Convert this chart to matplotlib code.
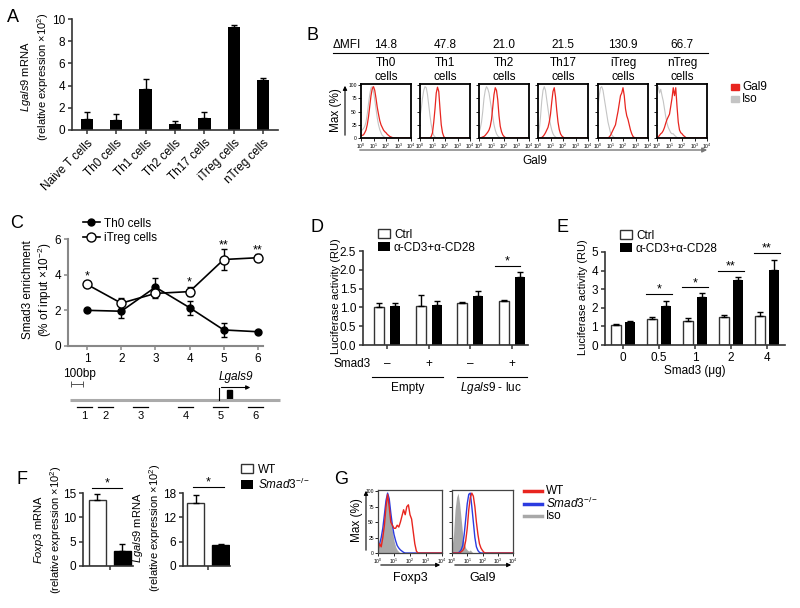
import numpy as np
import matplotlib
matplotlib.use('Agg')
import matplotlib.pyplot as plt
from matplotlib.patches import Rectangle, Patch
from matplotlib.lines import Line2D
from matplotlib.ticker import NullLocator

plt.rcParams['font.family'] = ['Liberation Sans', 'DejaVu Sans']
plt.rcParams['mathtext.fontset'] = 'custom'
plt.rcParams['mathtext.rm'] = 'Liberation Sans'
plt.rcParams['mathtext.it'] = 'Liberation Sans:italic'
plt.rcParams['mathtext.bf'] = 'Liberation Sans:bold'
plt.rcParams['font.size'] = 8.5

# ---- data ----
# A: Lgals9 mRNA
cell_types = ['Naive T cells', 'Th0 cells', 'Th1 cells', 'Th2 cells', 'Th17 cells', 'iTreg cells', 'nTreg cells']
lgals9_mrna = [1.0, 0.9, 3.7, 0.55, 1.1, 9.3, 4.5]
lgals9_err = [0.6, 0.5, 0.9, 0.3, 0.55, 0.15, 0.2]

# B: Gal9 histograms (log10 fluorescence, % of max)
hist_cells = ['Th0\ncells', 'Th1\ncells', 'Th2\ncells', 'Th17\ncells', 'iTreg\ncells', 'nTreg\ncells']
delta_mfi = ['14.8', '47.8', '21.0', '21.5', '130.9', '66.7']
log_bins = [0.0, 0.1, 0.2, 0.3, 0.4, 0.5, 0.6, 0.7, 0.8, 0.9, 1.0, 1.1, 1.2, 1.3, 1.4, 1.5,
            1.6, 1.7, 1.8, 1.9, 2.0, 2.1, 2.2, 2.3, 2.4, 2.5, 2.6, 2.7, 2.8, 2.9, 3.0]
gal9_th0 = [5, 5, 6, 10, 15, 25, 40, 60, 80, 93, 97, 90, 75, 58, 45, 33, 25, 20, 15, 12, 10, 7, 5, 3, 2, 1, 0, 0, 0, 0, 0]
iso_th0 = [15, 15, 18, 22, 30, 45, 65, 82, 95, 97, 88, 72, 55, 38, 25, 16, 10, 5, 3, 1, 0, 0, 0, 0, 0, 0, 0, 0, 0, 0, 0]
gal9_th1 = [0, 0, 0, 0, 0, 0, 0, 0, 0, 3, 10, 30, 55, 85, 96, 88, 55, 25, 10, 3, 0, 0, 0, 0, 0, 0, 0, 0, 0, 0, 0]
iso_th1 = [40, 55, 75, 90, 97, 95, 82, 62, 42, 25, 12, 5, 2, 0, 0, 0, 0, 0, 0, 0, 0, 0, 0, 0, 0, 0, 0, 0, 0, 0, 0]
gal9_th2 = [0, 0, 1, 2, 3, 5, 8, 11, 15, 22, 35, 58, 82, 95, 90, 72, 42, 22, 12, 6, 3, 1, 0, 0, 0, 0, 0, 0, 0, 0, 0]
iso_th2 = [10, 18, 30, 50, 75, 90, 97, 93, 85, 70, 55, 40, 25, 15, 8, 4, 2, 0, 0, 0, 0, 0, 0, 0, 0, 0, 0, 0, 0, 0, 0]
gal9_th17 = [0, 0, 0, 1, 3, 6, 10, 15, 20, 30, 45, 68, 88, 95, 78, 52, 30, 16, 8, 4, 2, 0, 0, 0, 0, 0, 0, 0, 0, 0, 0]
iso_th17 = [5, 15, 40, 70, 90, 97, 90, 72, 55, 38, 25, 15, 8, 4, 2, 0, 0, 0, 0, 0, 0, 0, 0, 0, 0, 0, 0, 0, 0, 0, 0]
gal9_itreg = [0, 0, 0, 0, 0, 0, 0, 0, 0, 2, 5, 10, 15, 20, 25, 38, 50, 65, 80, 85, 95, 80, 55, 42, 35, 25, 15, 8, 3, 1, 0]
iso_itreg = [60, 80, 95, 97, 90, 75, 60, 45, 30, 20, 10, 6, 3, 1, 0, 0, 0, 0, 0, 0, 0, 0, 0, 0, 0, 0, 0, 0, 0, 0, 0]
gal9_ntreg = [0, 2, 5, 8, 10, 14, 20, 28, 35, 40, 45, 60, 75, 95, 80, 95, 60, 30, 15, 10, 8, 5, 3, 1, 0, 0, 0, 0, 0, 0, 0]
iso_ntreg = [90, 97, 85, 92, 80, 70, 55, 40, 28, 20, 15, 10, 8, 8, 5, 3, 1, 0, 0, 0, 0, 0, 0, 0, 0, 0, 0, 0, 0, 0, 0]
gal9_curves = [gal9_th0, gal9_th1, gal9_th2, gal9_th17, gal9_itreg, gal9_ntreg]
iso_curves = [iso_th0, iso_th1, iso_th2, iso_th17, iso_itreg, iso_ntreg]

# C: Smad3 ChIP
regions = [1, 2, 3, 4, 5, 6]
th0_enrich = [2.0, 1.95, 3.3, 2.15, 0.9, 0.8]
th0_err = [0.05, 0.4, 0.5, 0.4, 0.4, 0.05]
itreg_enrich = [3.45, 2.4, 2.95, 3.05, 4.85, 4.95]
itreg_err = [0.05, 0.3, 0.25, 0.25, 0.6, 0.2]
c_star_pos = [1, 4, 5, 6]
c_star_y = [4.1, 3.76, 5.83, 5.55]
c_star_txt = ['*', '*', '**', '**']
amplicon_start_bp = [60, 235, 525, 900, 1190, 1485]
amplicon_len_bp = 125
tss_bp = 1242
exon_bp = [1308, 1350]
locus_len_bp = 1750

# D: luciferase
d_smad3 = ['\u2013', '+', '\u2013', '+']
d_ctrl = [1.0, 1.03, 1.12, 1.17]
d_ctrl_err = [0.13, 0.3, 0.02, 0.02]
d_cd3 = [1.05, 1.07, 1.3, 1.8]
d_cd3_err = [0.07, 0.1, 0.13, 0.14]

# E: Smad3 dose
e_dose = ['0', '0.5', '1', '2', '4']
e_ctrl = [1.1, 1.4, 1.28, 1.5, 1.55]
e_ctrl_err = [0.02, 0.12, 0.15, 0.12, 0.2]
e_cd3 = [1.25, 2.1, 2.57, 3.5, 4.05]
e_cd3_err = [0.05, 0.28, 0.25, 0.15, 0.5]
e_sig = ['', '*', '*', '**', '**']
e_sig_y = [0, 2.74, 3.1, 4.0, 4.95]

# F: WT vs Smad3-/-
f_foxp3 = [13.6, 3.0]
f_foxp3_err = [1.1, 1.5]
f_lgals9 = [15.5, 5.3]
f_lgals9_err = [2.0, 0.2]

# G: Foxp3 / Gal9 histograms
foxp3_iso = [10, 15, 25, 40, 60, 85, 95, 80, 55, 35, 20, 10, 5, 2, 0, 0, 0, 0, 0, 0, 0, 0, 0, 0, 0, 0, 0, 0, 0, 0, 0]
foxp3_ko = [10, 15, 25, 40, 62, 85, 97, 88, 65, 45, 30, 20, 12, 8, 5, 3, 1, 0, 0, 0, 0, 0, 0, 0, 0, 0, 0, 0, 0, 0, 0]
foxp3_wt = [5, 15, 10, 25, 45, 75, 95, 75, 50, 45, 40, 40, 45, 42, 50, 60, 70, 62, 75, 78, 62, 55, 35, 15, 3, 0, 0, 0, 0, 0, 0]
gal9_iso = [10, 30, 70, 90, 97, 80, 55, 30, 15, 8, 5, 3, 5, 2, 0, 0, 0, 0, 0, 0, 0, 0, 0, 0, 0, 0, 0, 0, 0, 0, 0]
gal9_ko = [0, 0, 0, 0, 0, 2, 5, 12, 30, 55, 80, 95, 97, 75, 50, 25, 10, 4, 1, 0, 0, 0, 0, 0, 0, 0, 0, 0, 0, 0, 0]
gal9_wt = [0, 0, 0, 0, 0, 0, 2, 4, 8, 20, 40, 70, 90, 97, 92, 75, 50, 30, 15, 8, 4, 1, 0, 0, 0, 0, 0, 0, 0, 0, 0]

RED = '#e8251f'
BLUE = '#2b3be0'
ISO_B = '#c4c4c4'
ISO_G = '#a8a8a8'
AX = '#333333'

W, H = 800, 608
fig = plt.figure(figsize=(8, 6.08), dpi=100)


def box(x0, y0, x1, y1):
    return fig.add_axes([x0 / W, 1 - y1 / H, (x1 - x0) / W, (y1 - y0) / H])


def style(ax, color=AX):
    for s in ['top', 'right']:
        ax.spines[s].set_visible(False)
    for s in ['left', 'bottom']:
        ax.spines[s].set_color(color)
        ax.spines[s].set_linewidth(1.2)
    ax.tick_params(color=color, length=3, width=1.1, labelsize=8.5, pad=2)


def hist_style(ax, ylabels, lw=1.3, col='black'):
    ax.set_xscale('log')
    ax.set_xlim(1, 1e4)
    ax.set_ylim(0, 102)
    ax.set_xticks([1, 10, 100, 1000, 10000])
    ax.set_xticklabels(['$10^{0}$', '$10^{1}$', '$10^{2}$', '$10^{3}$', '$10^{4}$'])
    ax.xaxis.set_minor_locator(NullLocator())
    ax.set_yticks([0, 25, 50, 75, 100])
    if ylabels:
        ax.set_yticklabels(['0', '25', '50', '75', '100'])
    else:
        ax.set_yticklabels([])
    ax.tick_params(length=2, width=0.6, labelsize=3.6, pad=1)
    for s in ax.spines.values():
        s.set_linewidth(lw)
        s.set_color(col)


xs_hist = list(10 ** np.array(log_bins)) + [1e4]

ov = fig.add_axes([0, 0, 1, 1], zorder=10)
ov.set_xlim(0, W)
ov.set_ylim(H, 0)
ov.axis('off')

# panel letters
for letter, (lx, ly) in zip('ABCDEFG', [(13, 17), (312, 35), (17, 224), (317, 228),
                                        (563, 228), (22, 480), (341, 480)]):
    ov.text(lx, ly, letter, fontsize=13, ha='center', va='center')

# ---- A ----
axA = box(72, 19, 278, 130)
xa = np.arange(len(cell_types))
axA.bar(xa, lgals9_mrna, 0.42, color='black',
        yerr=[np.zeros(len(xa)), lgals9_err], capsize=2.5,
        error_kw=dict(elinewidth=1, capthick=1))
axA.set_xlim(-0.5, 6.5)
axA.set_ylim(0, 10)
axA.set_yticks([0, 2, 4, 6, 8, 10])
axA.set_xticks(xa)
axA.set_xticklabels(cell_types, rotation=45, ha='right', rotation_mode='anchor')
style(axA)
ov.text(35, 77, '$\\it{Lgals9}$ mRNA\n(relative expression \u00d710$^{2}$)',
        rotation=90, ha='center', va='center', fontsize=8, linespacing=1.2)

# ---- B ----
ov.text(333, 45, '\u0394MFI', ha='left', va='center', fontsize=8.5)
ov.plot([333, 708], [53, 53], color='black', lw=0.8)
b_left = [361, 420, 479, 538, 598, 657]
for i in range(6):
    axb = box(b_left[i], 84, b_left[i] + 50, 138)
    axb.plot(xs_hist, iso_curves[i] + [0], color=ISO_B, lw=0.8)
    axb.plot(xs_hist, gal9_curves[i] + [0], color=RED, lw=0.9)
    hist_style(axb, i == 0)
    cx = b_left[i] + 25
    ov.text(cx, 45, delta_mfi[i], ha='center', va='center', fontsize=8.5)
    ov.text(cx, 70, hist_cells[i], ha='center', va='center', fontsize=8.5, linespacing=1.2)
ov.text(336, 110, 'Max (%)', rotation=90, ha='center', va='center', fontsize=8.5)
ov.annotate('', xy=(345, 83), xytext=(345, 138),
            arrowprops=dict(arrowstyle='-|>', color='black', lw=0.8, mutation_scale=6))
ov.annotate('', xy=(710, 150), xytext=(357, 150),
            arrowprops=dict(arrowstyle='-|>', color='#777777', lw=1.0, mutation_scale=7))
ov.text(535, 161, 'Gal9', ha='center', va='center', fontsize=8.5)
ov.add_patch(Rectangle((731, 84), 8, 6, color=RED))
ov.text(742, 87, 'Gal9', ha='left', va='center', fontsize=8.5)
ov.add_patch(Rectangle((731, 96), 8, 6, color=ISO_B))
ov.text(742, 99.5, 'Iso', ha='left', va='center', fontsize=8.5)

# ---- C ----
axC = box(68, 239, 263, 346)
axC.errorbar(regions, th0_enrich, yerr=th0_err, fmt='-o', color='black', ms=5,
             capsize=2.5, lw=1.2, elinewidth=1, capthick=1)
axC.errorbar(regions, itreg_enrich, yerr=itreg_err, fmt='-o', color='black',
             mfc='white', mec='black', ms=6.5, mew=1, capsize=2.5, lw=1.2,
             elinewidth=1, capthick=1)
for p, y, t in zip(c_star_pos, c_star_y, c_star_txt):
    axC.annotate(t, (p, y), xytext=(0, -4.7), textcoords='offset points',
                 ha='center', va='baseline', fontsize=9)
axC.set_xlim(0.44, 6.15)
axC.set_ylim(0, 6)
axC.set_xticks(regions)
axC.set_yticks([0, 2, 4, 6])
style(axC, '#888888')
axC.spines['left'].set_linewidth(1.5)
axC.spines['bottom'].set_linewidth(1.5)
h_th0 = Line2D([], [], color='black', marker='o', ms=5, lw=1.2)
h_itreg = Line2D([], [], color='black', marker='o', mfc='white', mec='black', ms=6.5, mew=1, lw=1.2)
axC.legend([h_th0, h_itreg], ['Th0 cells', 'iTreg cells'], loc='center left',
           bbox_to_anchor=(83 / W, 1 - 231 / H), bbox_transform=fig.transFigure,
           frameon=False, handlelength=1.4, handletextpad=0.4, labelspacing=0.25,
           borderpad=0, borderaxespad=0, fontsize=8.5)
ov.text(38, 290, 'Smad3 enrichment\n(% of input \u00d710$^{-2}$)', rotation=90,
        ha='center', va='center', fontsize=8.5, linespacing=1.15)

# gene diagram
gx0, gpx = 70, 0.12
ov.plot([gx0, gx0 + locus_len_bp * gpx], [400, 400], color='#aaaaaa', lw=2.2, solid_capstyle='butt')
for k, st in enumerate(amplicon_start_bp):
    a0 = gx0 + st * gpx
    a1 = gx0 + (st + amplicon_len_bp) * gpx
    ov.plot([a0, a1], [407, 407], color='black', lw=0.9)
    ov.text((a0 + a1) / 2, 416, str(k + 1), ha='center', va='center', fontsize=8)
ov.plot([gx0 + 1, gx0 + 1 + 100 * gpx], [384, 384], color='#555555', lw=0.7,
        marker='|', ms=4, mew=0.7)
ov.text(gx0 + 9, 374, '100bp', ha='center', va='center', fontsize=8.5)
tx = gx0 + tss_bp * gpx
ov.plot([tx, tx], [400, 387.5], color='black', lw=0.8)
ov.annotate('', xy=(tx + 34, 387.5), xytext=(tx - 0.4, 387.5),
            arrowprops=dict(arrowstyle='-|>', color='black', lw=0.8, mutation_scale=6))
ov.add_patch(Rectangle((gx0 + exon_bp[0] * gpx, 390), (exon_bp[1] - exon_bp[0]) * gpx, 9,
                       color='black'))
ov.text(tx + 17, 377, 'Lgals9', style='italic', ha='center', va='center', fontsize=8.5)

# ---- D ----
axD = box(363, 251, 528, 345)
xd = np.arange(4)
bD1 = axD.bar(xd - 0.19, d_ctrl, 0.24, color='white', edgecolor=AX, lw=1,
              yerr=[np.zeros(4), d_ctrl_err], capsize=2,
              error_kw=dict(elinewidth=1, capthick=1))
bD2 = axD.bar(xd + 0.19, d_cd3, 0.24, color='black',
              yerr=[np.zeros(4), d_cd3_err], capsize=2,
              error_kw=dict(elinewidth=1, capthick=1))
axD.set_xlim(-0.58, 3.39)
axD.set_ylim(0, 2.5)
axD.set_yticks([0, 0.5, 1.0, 1.5, 2.0, 2.5])
axD.set_yticklabels(['0.0', '0.5', '1.0', '1.5', '2.0', '2.5'])
axD.set_xticks(xd)
axD.set_xticklabels([])
style(axD)
axD.plot([2.59, 3.19], [2.1, 2.1], color='black', lw=0.8, clip_on=False)
axD.annotate('*', (2.89, 2.1), xytext=(0, 1), textcoords='offset points',
             ha='center', va='baseline', fontsize=9, annotation_clip=False)
xt = axD.get_xaxis_transform()
for i, s in enumerate(d_smad3):
    axD.text(i, -0.2, s, transform=xt, ha='center', va='center', fontsize=8.5)
ov.text(371, 364, 'Smad3', ha='right', va='center', fontsize=8.5)
axD.plot([-0.36, 1.35], [-0.34, -0.34], transform=xt, color='black', lw=0.8, clip_on=False)
axD.plot([1.68, 3.37], [-0.34, -0.34], transform=xt, color='black', lw=0.8, clip_on=False)
axD.text(0.5, -0.46, 'Empty', transform=xt, ha='center', va='center', fontsize=8.5)
axD.text(2.5, -0.46, '$\\it{Lgals9}$ - luc', transform=xt, ha='center', va='center', fontsize=8.5)
axD.legend([bD1, bD2], ['Ctrl', '\u03b1-CD3+\u03b1-CD28'], loc='upper left',
           bbox_to_anchor=(378 / W, 1 - 229 / H), bbox_transform=fig.transFigure,
           frameon=False, handlelength=1.0, handleheight=0.8, handletextpad=0.35,
           labelspacing=0.05, borderpad=0, borderaxespad=0, fontsize=8.5)
ov.text(336, 296, 'Luciferase activity (RU)', rotation=90, ha='center', va='center', fontsize=8)

# ---- E ----
axE = box(605, 252, 785, 345)
xe = np.arange(5)
bE1 = axE.bar(xe - 0.19, e_ctrl, 0.26, color='white', edgecolor=AX, lw=1,
              yerr=[np.zeros(5), e_ctrl_err], capsize=2,
              error_kw=dict(elinewidth=1, capthick=1))
bE2 = axE.bar(xe + 0.19, e_cd3, 0.26, color='black',
              yerr=[np.zeros(5), e_cd3_err], capsize=2,
              error_kw=dict(elinewidth=1, capthick=1))
axE.set_xlim(-0.5, 4.5)
axE.set_ylim(0, 5)
axE.set_yticks([0, 1, 2, 3, 4, 5])
axE.set_xticks(xe)
axE.set_xticklabels(e_dose)
style(axE)
for i in range(1, 5):
    axE.plot([i - 0.36, i + 0.36], [e_sig_y[i], e_sig_y[i]], color='black', lw=0.8, clip_on=False)
    axE.annotate(e_sig[i], (i, e_sig_y[i]), xytext=(0, 1), textcoords='offset points',
                 ha='center', va='baseline', fontsize=9, annotation_clip=False)
ov.text(695, 371, 'Smad3 (\u03bcg)', ha='center', va='center', fontsize=8.5)
ov.text(583, 297, 'Luciferase activity (RU)', rotation=90, ha='center', va='center', fontsize=8)
axE.legend([bE1, bE2], ['Ctrl', '\u03b1-CD3+\u03b1-CD28'], loc='upper left',
           bbox_to_anchor=(620 / W, 1 - 230 / H), bbox_transform=fig.transFigure,
           frameon=False, handlelength=1.0, handleheight=0.8, handletextpad=0.35,
           labelspacing=0.05, borderpad=0, borderaxespad=0, fontsize=8.5)

# ---- F ----
axF1 = box(83, 493, 133, 566)
axF1.bar([0, 1], f_foxp3, 0.68, color=['white', 'black'], edgecolor=[AX, 'black'], lw=1,
         yerr=[[0, 0], f_foxp3_err], capsize=2.5, error_kw=dict(elinewidth=1, capthick=1))
axF1.set_xlim(-0.56, 1.44)
axF1.set_ylim(0, 15)
axF1.set_yticks([0, 5, 10, 15])
axF1.set_xticks([0.5])
axF1.set_xticklabels([])
style(axF1)
axF1.plot([-0.2, 1.0], [16.0, 16.0], color='black', lw=0.8, clip_on=False)
axF1.annotate('*', (0.4, 16.0), xytext=(0, 1), textcoords='offset points',
              ha='center', va='baseline', fontsize=9, annotation_clip=False)

axF2 = box(183, 493, 230, 566)
axF2.bar([0, 1], f_lgals9, 0.68, color=['white', 'black'], edgecolor=[AX, 'black'], lw=1,
         yerr=[[0, 0], f_lgals9_err], capsize=2.5, error_kw=dict(elinewidth=1, capthick=1))
axF2.set_xlim(-0.5, 1.38)
axF2.set_ylim(0, 18)
axF2.set_yticks([0, 6, 12, 18])
axF2.set_xticks([0.5])
axF2.set_xticklabels([])
style(axF2)
axF2.plot([-0.1, 1.14], [19.5, 19.5], color='black', lw=0.8, clip_on=False)
axF2.annotate('*', (0.5, 19.5), xytext=(0, 1), textcoords='offset points',
              ha='center', va='baseline', fontsize=9, annotation_clip=False)
ov.text(48, 530, '$\\it{Foxp3}$ mRNA\n(relative expression \u00d710$^{2}$)',
        rotation=90, ha='center', va='center', fontsize=8, linespacing=1.15)
ov.text(147, 528, '$\\it{Lgals9}$ mRNA\n(relative expression \u00d710$^{2}$)',
        rotation=90, ha='center', va='center', fontsize=8, linespacing=1.15)
axF2.legend([Patch(facecolor='white', edgecolor=AX), Patch(facecolor='black')],
            ['WT', '$\\it{Smad3}^{-/-}$'], loc='upper left',
            bbox_to_anchor=(241 / W, 1 - 464 / H), bbox_transform=fig.transFigure,
            frameon=False, handlelength=1.0, handleheight=0.8, handletextpad=0.4,
            labelspacing=0.05, borderpad=0, borderaxespad=0, fontsize=8.5)

# ---- G ----
g_boxes = [(378, 442), (452, 513)]
g_sets = [(foxp3_iso, foxp3_ko, foxp3_wt, 'Foxp3'), (gal9_iso, gal9_ko, gal9_wt, 'Gal9')]
for j, ((x0, x1), (iso, ko, wt, lab)) in enumerate(zip(g_boxes, g_sets)):
    axg = box(x0, 490, x1, 553)
    axg.fill_between(xs_hist, iso + [0], color=ISO_G, lw=0)
    axg.plot(xs_hist, ko + [0], color=BLUE, lw=1.0)
    axg.plot(xs_hist, wt + [0], color=RED, lw=1.0)
    hist_style(axg, j == 0, lw=0.9, col='#444444')
    ov.annotate('', xy=(x1 + 1, 565), xytext=(x0, 565),
                arrowprops=dict(arrowstyle='-|>', color='black', lw=0.8, mutation_scale=6))
    ov.text((x0 + x1) / 2, 578, lab, ha='center', va='center', fontsize=9)
ov.text(357, 520, 'Max (%)', rotation=90, ha='center', va='center', fontsize=8.5)
ov.annotate('', xy=(366, 488), xytext=(366, 553),
            arrowprops=dict(arrowstyle='-|>', color='black', lw=0.8, mutation_scale=6))
for yy, col, lab in zip([490.5, 503.5, 516], [RED, BLUE, ISO_G],
                        ['WT', '$\\it{Smad3}^{-/-}$', 'Iso']):
    ov.plot([524, 542], [yy, yy], color=col, lw=2.5)
    ov.text(546, yy, lab, ha='left', va='center', fontsize=8.5)

fig.savefig('out.png', dpi=100)
